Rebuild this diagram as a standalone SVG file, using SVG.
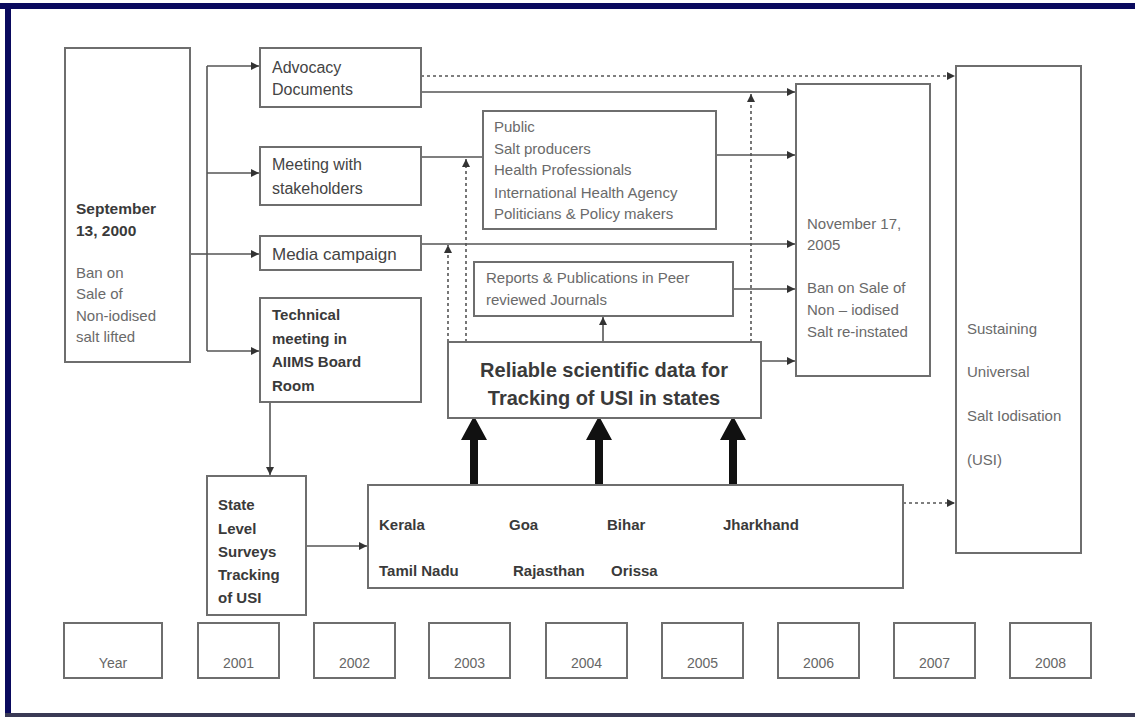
<svg xmlns="http://www.w3.org/2000/svg" width="1135" height="717" viewBox="0 0 1135 717">
<defs>
<marker id="ah" viewBox="0 0 10 10" refX="10" refY="5" markerWidth="5.5" markerHeight="5" orient="auto" markerUnits="strokeWidth">
<path d="M0,0 L10,5 L0,10 z" fill="#333"/>
</marker>
<style>
.box{fill:#fff;stroke:#6e6e6e;stroke-width:2}
.ln{fill:none;stroke:#555;stroke-width:1.6}
.dot{fill:none;stroke:#555;stroke-width:1.6;stroke-dasharray:3,3}
.t{font-family:"Liberation Sans",Arial,sans-serif;font-size:16px;fill:#444}
.b{font-family:"Liberation Sans",Arial,sans-serif;font-size:15px;font-weight:bold;fill:#3a3a3a}
.g{font-family:"Liberation Sans",Arial,sans-serif;font-size:15px;fill:#6a6a6a}
.y{font-family:"Liberation Sans",Arial,sans-serif;font-size:14px;fill:#666;text-anchor:middle}
.big{font-family:"Liberation Sans",Arial,sans-serif;font-size:20px;font-weight:bold;fill:#3a3a3a;text-anchor:middle}
.thick{fill:#111}
</style>
</defs>
<rect x="0" y="0" width="1135" height="717" fill="#fff"/>
<!-- frame -->
<rect x="0" y="3" width="1135" height="6" fill="#0a0a5e"/>
<rect x="5" y="3" width="6" height="714" fill="#0a0a5e"/>
<rect x="5" y="713" width="1130" height="4" fill="#3a3a55"/>

<g id="connectors">
<polyline class="ln" points="190,254 207,254"/>
<polyline class="ln" points="207,66 207,351"/>
<line class="ln" x1="207" y1="66" x2="259" y2="66" marker-end="url(#ah)"/>
<line class="ln" x1="207" y1="173" x2="259" y2="173" marker-end="url(#ah)"/>
<line class="ln" x1="207" y1="254" x2="259" y2="254" marker-end="url(#ah)"/>
<line class="ln" x1="207" y1="351" x2="259" y2="351" marker-end="url(#ah)"/>
<line class="ln" x1="270" y1="402" x2="270" y2="475" marker-end="url(#ah)"/>
<line class="ln" x1="306" y1="546" x2="367" y2="546" marker-end="url(#ah)"/>
<line class="dot" x1="421" y1="76" x2="955" y2="76" marker-end="url(#ah)"/>
<line class="ln" x1="421" y1="92" x2="795" y2="92" marker-end="url(#ah)"/>
<line class="ln" x1="421" y1="157" x2="483" y2="157"/>
<line class="ln" x1="716" y1="155" x2="795" y2="155" marker-end="url(#ah)"/>
<line class="ln" x1="421" y1="244" x2="795" y2="244" marker-end="url(#ah)"/>
<line class="ln" x1="733" y1="289" x2="795" y2="289" marker-end="url(#ah)"/>
<line class="ln" x1="761" y1="361" x2="795" y2="361" marker-end="url(#ah)"/>
<line class="ln" x1="603" y1="342" x2="603" y2="317" marker-end="url(#ah)"/>
<line class="dot" x1="448" y1="342" x2="448" y2="245" marker-end="url(#ah)"/>
<line class="dot" x1="466" y1="342" x2="466" y2="159" marker-end="url(#ah)"/>
<line class="dot" x1="751" y1="342" x2="751" y2="94" marker-end="url(#ah)"/>
<line class="dot" x1="903" y1="503" x2="955" y2="503" marker-end="url(#ah)"/>
<path class="thick" d="M470,485 L470,440 L461,440 L474,416 L487,440 L478,440 L478,485 Z"/>
<path class="thick" d="M595,485 L595,440 L586,440 L599,416 L612,440 L603,440 L603,485 Z"/>
<path class="thick" d="M729,485 L729,440 L720,440 L733,416 L746,440 L737,440 L737,485 Z"/>
</g>

<g id="sept">
<rect class="box" x="65" y="48" width="125" height="314"/>
<text class="b" x="76" y="214" style="font-size:15.5px">September</text>
<text class="b" x="76" y="236" style="font-size:15.5px">13, 2000</text>
<text class="g" x="76" y="278">Ban on</text>
<text class="g" x="76" y="299">Sale of</text>
<text class="g" x="76" y="321">Non-iodised</text>
<text class="g" x="76" y="342">salt lifted</text>
</g>

<g id="advocacy">
<rect class="box" x="260" y="48" width="161" height="59"/>
<text class="t" x="272" y="73">Advocacy</text>
<text class="t" x="272" y="95">Documents</text>
</g>

<g id="meeting">
<rect class="box" x="260" y="147" width="161" height="58"/>
<text class="t" x="272" y="170">Meeting with</text>
<text class="t" x="272" y="194">stakeholders</text>
</g>

<g id="media">
<rect class="box" x="260" y="236" width="161" height="34"/>
<text class="t" x="272" y="260" style="font-size:17px">Media campaign</text>
</g>

<g id="technical">
<rect class="box" x="260" y="298" width="161" height="104"/>
<text class="b" x="272" y="320">Technical</text>
<text class="b" x="272" y="344">meeting in</text>
<text class="b" x="272" y="367">AIIMS Board</text>
<text class="b" x="272" y="391">Room</text>
</g>

<g id="public">
<rect class="box" x="483" y="111" width="233" height="118"/>
<text class="g" x="494" y="132">Public</text>
<text class="g" x="494" y="154">Salt producers</text>
<text class="g" x="494" y="175">Health Professionals</text>
<text class="g" x="494" y="198">International Health Agency</text>
<text class="g" x="494" y="219">Politicians &amp; Policy makers</text>
</g>

<g id="reports">
<rect class="box" x="474" y="262" width="259" height="54"/>
<text class="g" x="486" y="283">Reports &amp; Publications in Peer</text>
<text class="g" x="486" y="305">reviewed Journals</text>
</g>

<g id="reliable">
<rect class="box" x="448" y="342" width="313" height="76"/>
<text class="big" x="604" y="377">Reliable scientific data for</text>
<text class="big" x="604" y="405">Tracking of USI in states</text>
</g>

<g id="november">
<rect class="box" x="796" y="84" width="134" height="292"/>
<text class="g" x="807" y="229">November 17,</text>
<text class="g" x="807" y="250">2005</text>
<text class="g" x="807" y="293">Ban on Sale of</text>
<text class="g" x="807" y="315">Non – iodised</text>
<text class="g" x="807" y="337">Salt re-instated</text>
</g>

<g id="sustaining">
<rect class="box" x="956" y="66" width="125" height="487"/>
<text class="g" x="967" y="334">Sustaining</text>
<text class="g" x="967" y="377">Universal</text>
<text class="g" x="967" y="421">Salt Iodisation</text>
<text class="g" x="967" y="465">(USI)</text>
</g>

<g id="statelevel">
<rect class="box" x="207" y="476" width="99" height="139"/>
<text class="b" x="218" y="510">State</text>
<text class="b" x="218" y="534">Level</text>
<text class="b" x="218" y="557">Surveys</text>
<text class="b" x="218" y="580">Tracking</text>
<text class="b" x="218" y="603">of USI</text>
</g>

<g id="states">
<rect class="box" x="368" y="485" width="535" height="103"/>
<text class="b" x="379" y="530">Kerala</text>
<text class="b" x="509" y="530">Goa</text>
<text class="b" x="607" y="530">Bihar</text>
<text class="b" x="723" y="530">Jharkhand</text>
<text class="b" x="379" y="576">Tamil Nadu</text>
<text class="b" x="513" y="576">Rajasthan</text>
<text class="b" x="611" y="576">Orissa</text>
</g>

<g id="years">
<rect class="box" x="64" y="623" width="98" height="55"/>
<text class="y" x="113" y="668">Year</text>
<rect class="box" x="198" y="623" width="81" height="55"/>
<text class="y" x="238.5" y="668">2001</text>
<rect class="box" x="314" y="623" width="81" height="55"/>
<text class="y" x="354.5" y="668">2002</text>
<rect class="box" x="429" y="623" width="81" height="55"/>
<text class="y" x="469.5" y="668">2003</text>
<rect class="box" x="546" y="623" width="81" height="55"/>
<text class="y" x="586.5" y="668">2004</text>
<rect class="box" x="662" y="623" width="81" height="55"/>
<text class="y" x="702.5" y="668">2005</text>
<rect class="box" x="778" y="623" width="81" height="55"/>
<text class="y" x="818.5" y="668">2006</text>
<rect class="box" x="894" y="623" width="81" height="55"/>
<text class="y" x="934.5" y="668">2007</text>
<rect class="box" x="1010" y="623" width="81" height="55"/>
<text class="y" x="1050.5" y="668">2008</text>
</g>
</svg>
